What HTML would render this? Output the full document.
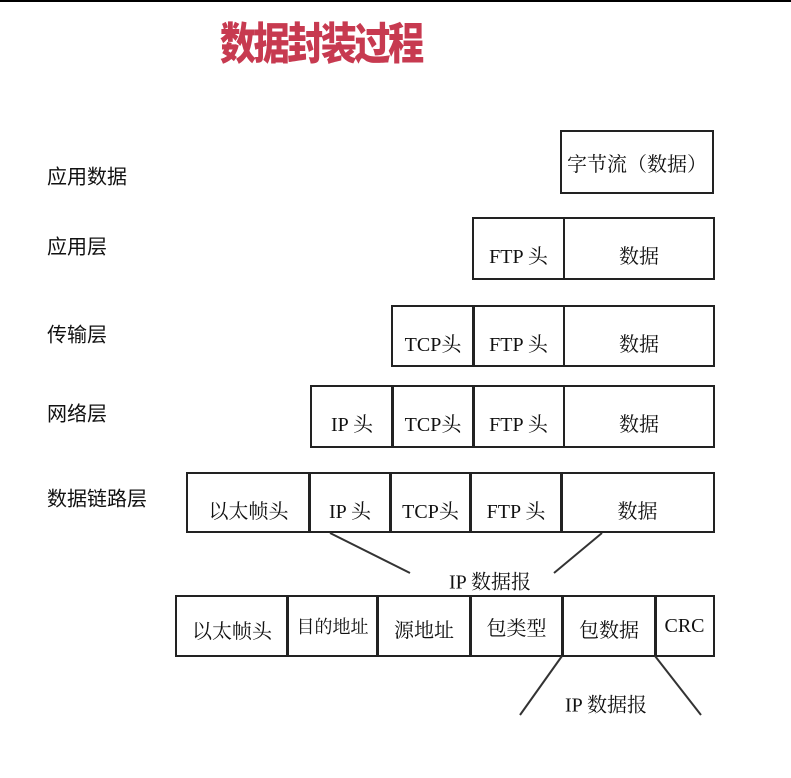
<!DOCTYPE html>
<html><head><meta charset="utf-8"><style>
body{margin:0;background:#fff;width:791px;height:778px;overflow:hidden;position:relative;font-family:"Liberation Serif","Noto Serif CJK SC","Noto Sans CJK SC",serif;color:#111}
.topline{position:absolute;left:0;top:0;width:791px;height:2px;background:#000}
.title{position:absolute;left:220px;top:8px;font:900 44px "Noto Sans CJK SC",sans-serif;color:#c73a50;letter-spacing:-3px;transform:scaleX(0.82);transform-origin:left}
.lbl{position:absolute;left:47px;font-size:20px;font-family:"Noto Sans CJK SC",sans-serif;transform:translateY(-50%)}
.b{position:absolute;border:2px solid #222;box-sizing:border-box;display:flex;align-items:center;justify-content:center;font-size:20px;white-space:nowrap;padding-top:12px}
.t{position:absolute;font-size:20px;transform:translate(-50%,-50%);white-space:nowrap}
</style></head><body>
<div class="topline"></div>
<div class="title">数据封装过程</div>
<div class="lbl" style="top:175px">应用数据</div>
<div class="lbl" style="top:245px">应用层</div>
<div class="lbl" style="top:333px">传输层</div>
<div class="lbl" style="top:412px">网络层</div>
<div class="lbl" style="top:497px">数据链路层</div>

<div class="b" style="left:560px;top:130px;width:154px;height:64px;padding-top:0">字节流（数据）</div>

<div class="b" style="left:472px;top:217px;width:93px;height:63px">FTP 头</div>
<div class="b" style="left:563px;top:217px;width:152px;height:63px">数据</div>

<div class="b" style="left:391px;top:305px;width:84px;height:62px">TCP头</div>
<div class="b" style="left:472px;top:305px;width:93px;height:62px">FTP 头</div>
<div class="b" style="left:563px;top:305px;width:152px;height:62px">数据</div>

<div class="b" style="left:310px;top:385px;width:84px;height:63px">IP 头</div>
<div class="b" style="left:391px;top:385px;width:84px;height:63px">TCP头</div>
<div class="b" style="left:472px;top:385px;width:93px;height:63px">FTP 头</div>
<div class="b" style="left:563px;top:385px;width:152px;height:63px">数据</div>

<div class="b" style="left:186px;top:472px;width:125px;height:61px;padding-top:14px">以太帧头</div>
<div class="b" style="left:308px;top:472px;width:84px;height:61px;padding-top:14px">IP 头</div>
<div class="b" style="left:389px;top:472px;width:83px;height:61px;padding-top:14px">TCP头</div>
<div class="b" style="left:469px;top:472px;width:94px;height:61px;padding-top:14px">FTP 头</div>
<div class="b" style="left:560px;top:472px;width:155px;height:61px;padding-top:14px">数据</div>

<div class="b" style="left:175px;top:595px;width:114px;height:62px;padding-top:6px">以太帧头</div>
<div class="b" style="left:286px;top:595px;width:93px;height:62px;font-size:18px;padding-top:0">目的地址</div>
<div class="b" style="left:376px;top:595px;width:96px;height:62px;padding-top:4px">源地址</div>
<div class="b" style="left:469px;top:595px;width:95px;height:62px;padding-top:0">包类型</div>
<div class="b" style="left:561px;top:595px;width:96px;height:62px;padding-top:4px">包数据</div>
<div class="b" style="left:654px;top:595px;width:61px;height:62px;padding-top:0">CRC</div>

<svg style="position:absolute;left:0;top:0" width="791" height="778">
<g stroke="#333" stroke-width="2">
<line x1="330" y1="533" x2="410" y2="573"/>
<line x1="602" y1="533" x2="554" y2="573"/>
<line x1="562" y1="656" x2="520" y2="715"/>
<line x1="655" y1="656" x2="701" y2="715"/>
</g></svg>
<div class="t" style="left:490px;top:580px">IP 数据报</div>
<div class="t" style="left:606px;top:703px">IP 数据报</div>
</body></html>
